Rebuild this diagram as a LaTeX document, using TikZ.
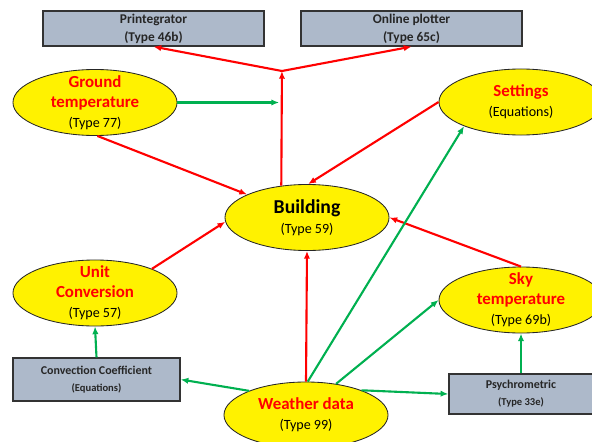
\documentclass[tikz,border=0pt]{standalone}
\usepackage{fontspec}
\setmainfont{Carlito}
\usepackage{xcolor}
\usetikzlibrary{
    arrows.meta,
    shapes.geometric,
    calc,
    positioning
}
\definecolor{boxgray}{RGB}{173,185,202}
\definecolor{flowgreen}{RGB}{0,176,80}
\definecolor{boxtext}{RGB}{38,38,38}
\tikzset{
    comp/.style={ellipse, draw=black!85, fill=yellow, line width=0.6pt,
        minimum width=4.1cm, minimum height=1.65cm, inner xsep=0pt, inner ysep=-12pt,
        align=center, font=\fontsize{12}{14.3}\selectfont},
    unitbox/.style={rectangle, draw=black!80, fill=boxgray, line width=0.9pt,
        align=center, text=boxtext, inner sep=0pt},
    redflow/.style={draw=red, line width=1.5pt, -{Latex[length=5.5pt,width=4.5pt]}},
    greenflow/.style={draw=flowgreen, line width=1.5pt, -{Latex[length=5.5pt,width=4.5pt]}}
}
\newcommand{\compname}[1]{\textcolor{red}{\bfseries #1}}
\newcommand{\comptype}[1]{{\fontsize{10}{12}\selectfont #1}}

\begin{document}
\begin{tikzpicture}[x=0.025cm, y=-0.025cm]
                        \clip (0,0) rectangle (592,441);
                        \node[unitbox, minimum width=5.525cm, minimum height=0.875cm,
                            font=\bfseries\fontsize{9.5}{12.8}\selectfont] (print) at (153.5, 28.5) {Printegrator\\(Type 46b)};
                        \node[unitbox, minimum width=5.525cm, minimum height=0.875cm,
                            font=\bfseries\fontsize{9.5}{12.8}\selectfont] (online) at (411.5, 28.5) {Online plotter\\(Type 65c)};
                        \node[comp] (ground) at (95, 102.5) {\compname{Ground}\\\compname{temperature}\\\comptype{(Type 77)}};
                        \node[comp] (settings) at (521, 102) {\compname{Settings}\\\comptype{(Equations)}};
                        \node[comp, font=\fontsize{14}{14.3}\selectfont] (building) at (307, 217.5) {\textbf{Building}\\\comptype{(Type 59)}};
                        \node[comp] (unitconv) at (95, 293) {\compname{Unit}\\\compname{Conversion}\\\comptype{(Type 57)}};
                        \node[comp] (sky) at (521, 300) {\compname{Sky}\\\compname{temperature}\\\comptype{(Type 69b)}};
                        \node[comp] (weather) at (306, 415) {\compname{Weather data}\\\comptype{(Type 99)}};
                        \node[unitbox, minimum width=4.175cm, minimum height=1.075cm,
                            font=\bfseries\fontsize{8.5}{12}\selectfont] (convection) at (96.5, 379.5) {Convection Coefficient\\{\fontsize{7.5}{9}\selectfont (Equations)}};
                        \node[unitbox, minimum width=3.6cm, minimum height=1cm,
                            font=\bfseries\fontsize{8.5}{12}\selectfont] (psychro) at (521, 394) {Psychrometric\\{\fontsize{7.5}{9}\selectfont (Type 33e)}};
                        \coordinate (split) at (281.94, 71);
                        \coordinate (tee) at (ground.east -| split);
                        \draw
                        (building.129) edge[redflow] (split)
                        (split) edge[redflow] (print.south)
                        (split) edge[redflow] (online.south)
                        (ground.-86) edge[redflow] (building.159)
                        (settings.180) edge[redflow] (building.88)
                        (unitconv.23) edge[redflow] (building.183)
                        (sky.90) edge[redflow] (building.0)
                        (weather.90) edge[redflow] (building.-90)
                        (ground.east) edge[greenflow, shorten >=2pt] (tee)
                        (weather.87) edge[greenflow] (settings.203)
                        (weather.46) edge[greenflow] (sky.180)
                        (weather.157) edge[greenflow] (convection.east)
                        (weather.24) edge[greenflow] (psychro.west)
                        (convection.north) edge[greenflow] (unitconv.south)
                        (psychro.north) edge[greenflow] (sky.south);
                    \end{tikzpicture}
\end{document}
